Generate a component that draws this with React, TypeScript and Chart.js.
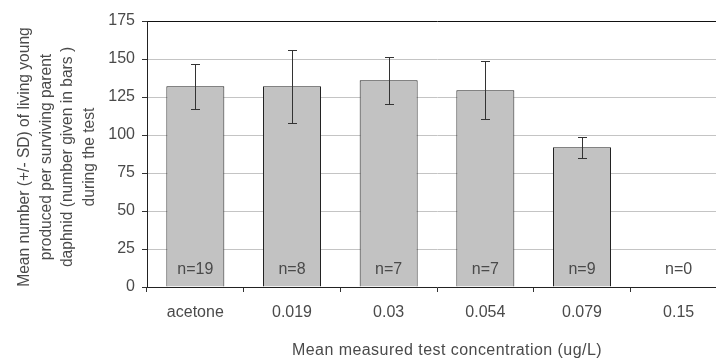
import React, { useEffect, useRef } from "react";
import { Chart, registerables } from "chart.js";

Chart.register(...registerables);

const categories = ["acetone", "0.019", "0.03", "0.054", "0.079", "0.15"];
const meanYoung = [132, 132, 136, 129.5, 92, 0];
const sdYoung = [15, 24, 15.5, 19, 7, 0];
const nLabels = ["n=19", "n=8", "n=7", "n=7", "n=9", "n=0"];
const yTitleLines = [
  "Mean number (+/- SD) of living young",
  "produced per surviving parent",
  "daphnid (number given in bars )",
  "during the test",
];
const xTitle = "Mean measured test concentration (ug/L)";

const FONT = "'Liberation Sans', Arial, sans-serif";
const TEXT = "#4a4a4a";

const CANVAS_W = 740;
const CANVAS_H = 358;

const extrasPlugin = {
  id: "extras",
  afterDatasetsDraw(chart: any) {
    const ctx = chart.ctx;
    const meta = chart.getDatasetMeta(0);
    const y = chart.scales.y;
    ctx.save();
    // error bars
    ctx.strokeStyle = "#333333";
    ctx.lineWidth = 1;
    meta.data.forEach((bar: any, i: number) => {
      const m = meanYoung[i];
      const s = sdYoung[i];
      if (!s) return;
      const x = Math.round(bar.x) + 0.5;
      const yt = Math.round(y.getPixelForValue(m + s)) + 0.5;
      const yb = Math.round(y.getPixelForValue(m - s)) + 0.5;
      ctx.beginPath();
      ctx.moveTo(x, yt);
      ctx.lineTo(x, yb);
      ctx.moveTo(x - 4.5, yt);
      ctx.lineTo(x + 4.5, yt);
      ctx.moveTo(x - 4.5, yb);
      ctx.lineTo(x + 4.5, yb);
      ctx.stroke();
    });
    // n labels
    ctx.fillStyle = TEXT;
    ctx.font = `16px ${FONT}`;
    ctx.textAlign = "center";
    ctx.textBaseline = "middle";
    const y0 = y.getPixelForValue(0);
    meta.data.forEach((bar: any, i: number) => {
      ctx.fillText(nLabels[i], bar.x, y0 - 17);
    });
    ctx.restore();
  },
  afterDraw(chart: any) {
    const ctx = chart.ctx;
    ctx.save();
    ctx.fillStyle = TEXT;
    ctx.font = `16px ${FONT}`;
    // x title
    ctx.textAlign = "center";
    ctx.textBaseline = "alphabetic";
    (ctx as any).letterSpacing = "0.45px";
    ctx.fillText(xTitle, 447, 355);
    (ctx as any).letterSpacing = "0px";
    // y title
    ctx.font = `15.6px ${FONT}`;
    const xs = [25, 46.5, 68, 89.5];
    const cy = 157;
    yTitleLines.forEach((line, i) => {
      ctx.save();
      ctx.translate(xs[i], cy);
      ctx.rotate(-Math.PI / 2);
      ctx.textAlign = "center";
      ctx.textBaseline = "middle";
      ctx.fillText(line, 0, 0);
      ctx.restore();
    });
    ctx.restore();
  },
};

export default function App() {
  const ref = useRef<HTMLCanvasElement | null>(null);
  useEffect(() => {
    if (!ref.current) return;
    const chart = new Chart(ref.current, {
      type: "bar",
      data: {
        labels: categories,
        datasets: [
          {
            data: meanYoung,
            backgroundColor: "#c2c2c2",
            borderColor: "#222222",
            borderWidth: 1,
            barPercentage: 0.6,
            categoryPercentage: 1,
          },
        ],
      },
      options: {
        responsive: false,
        animation: false,
        layout: { padding: { left: 0, top: 21, right: CANVAS_W - 727, bottom: 0 } },
        plugins: {
          legend: { display: false },
          tooltip: { enabled: false },
        },
        scales: {
          x: {
            type: "category",
            offset: true,
            afterFit: (s: any) => {
              s.height = 71;
            },
            grid: {
              offset: true,
              drawOnChartArea: false,
              drawTicks: true,
              tickLength: 5,
              tickColor: "#333333",
            },
            border: { display: true, color: "#222222", width: 1 },
            ticks: {
              color: TEXT,
              font: { family: FONT, size: 16 },
              padding: 11,
              maxRotation: 0,
              autoSkip: false,
            },
          },
          y: {
            min: 0,
            max: 175,
            afterFit: (s: any) => {
              s.width = 147;
            },
            ticks: {
              stepSize: 25,
              color: TEXT,
              font: { family: FONT, size: 16 },
              padding: 7,
            },
            grid: {
              color: (c: any) =>
                c.tick && c.tick.value === 175 ? "#111111" : "#c4c4c4",
              lineWidth: 1,
              tickLength: 5,
              tickColor: "#333333",
            },
            border: { display: true, color: "#222222", width: 1 },
          },
        },
      },
      plugins: [extrasPlugin],
    });
    return () => chart.destroy();
  }, []);
  return (
    <div
      style={{
        position: "absolute",
        left: 0,
        top: 0,
        width: 716,
        height: 358,
        overflow: "hidden",
        background: "#ffffff",
      }}
    >
      <canvas
        ref={ref}
        width={CANVAS_W}
        height={CANVAS_H}
        style={{ width: CANVAS_W, height: CANVAS_H, display: "block" }}
      />
    </div>
  );
}
